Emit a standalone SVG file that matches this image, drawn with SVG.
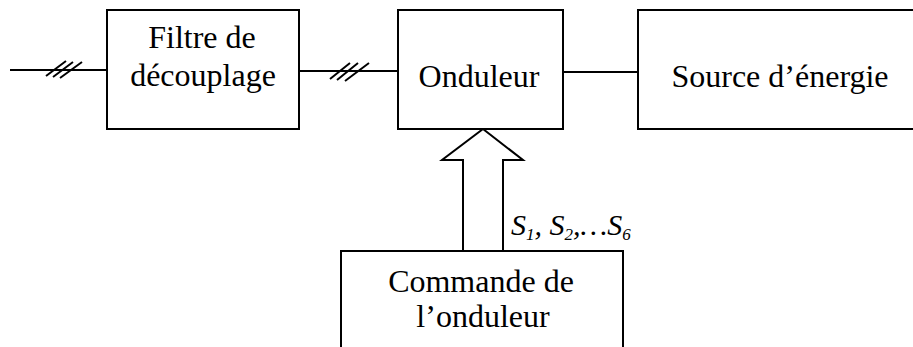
<svg xmlns="http://www.w3.org/2000/svg" width="913" height="347" viewBox="0 0 913 347">
<style>
.box{fill:#fff;stroke:#000;stroke-width:2}
.ln{fill:none;stroke:#000;stroke-width:2}
.hs{fill:none;stroke:#000;stroke-width:2}
.t{font-family:"Liberation Serif","Times New Roman",serif;font-size:32px;fill:#000;text-anchor:middle}
.it{font-family:"Liberation Serif","Times New Roman",serif;font-size:30px;font-style:italic;fill:#000}
</style>
<rect width="913" height="347" fill="#fff"/>
<g id="connectors">
<line class="ln" x1="10" y1="70" x2="107" y2="70"/>
<path class="hs" d="M46,76 L66,61 M53,77 L73,62 M60,78 L82,62"/>
<line class="ln" x1="299" y1="71" x2="398" y2="71"/>
<path class="hs" d="M330,79 L350,63 M337,80 L358,63 M345,81 L369,63"/>
<line class="ln" x1="563" y1="72" x2="638" y2="72"/>
<path id="bus-arrow" class="ln" d="M463,251 L463,160 L442,160 L483,129 L523,160 L503,160 L503,251"/>
<text class="it" x="511" y="235">S<tspan font-size="17" dy="5">1</tspan><tspan dy="-5">, S</tspan><tspan font-size="17" dy="5">2</tspan><tspan dy="-5">,…S</tspan><tspan font-size="17" dy="5">6</tspan></text>
</g>
<g id="filtre">
<rect class="box" x="107" y="10" width="192" height="119"/>
<text class="t" x="202" y="48">Filtre de</text>
<text class="t" x="203" y="86">découplage</text>
</g>
<g id="onduleur">
<rect class="box" x="398" y="10" width="165" height="119"/>
<text class="t" x="479" y="87">Onduleur</text>
</g>
<g id="source">
<rect class="box" x="638" y="10" width="290" height="119"/>
<text class="t" x="780" y="87">Source d’énergie</text>
</g>
<g id="commande">
<rect class="box" x="341" y="251" width="282" height="110"/>
<text class="t" x="481" y="292">Commande de</text>
<text class="t" x="483" y="327">l’onduleur</text>
</g>
</svg>
